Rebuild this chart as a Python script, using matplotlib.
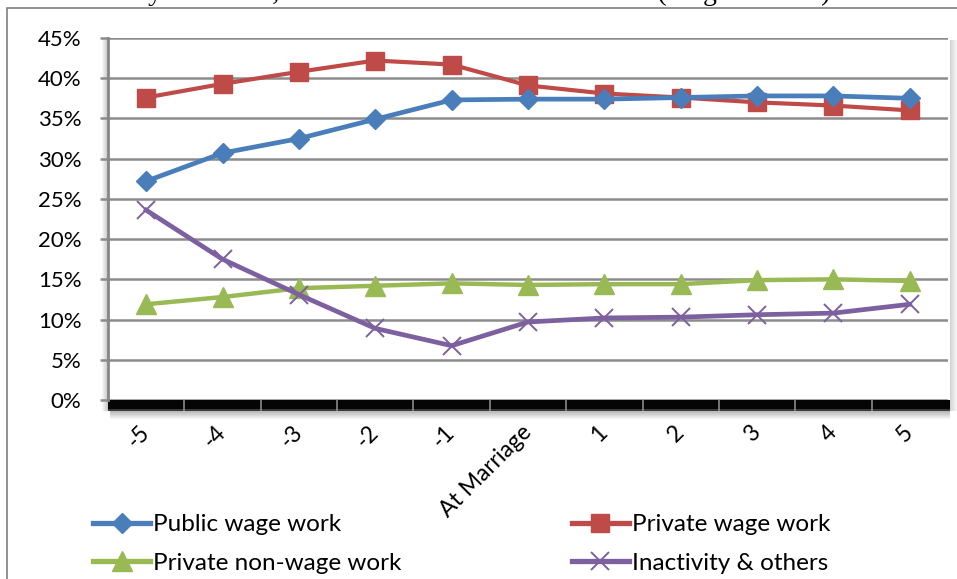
import matplotlib
matplotlib.use("Agg")
import matplotlib.pyplot as plt
from matplotlib.patches import Rectangle
from matplotlib.lines import Line2D
from matplotlib.transforms import blended_transform_factory
from matplotlib.ticker import FuncFormatter

# Employment status shares (%) by years relative to marriage
periods = ["-5", "-4", "-3", "-2", "-1", "At Marriage", "1", "2", "3", "4", "5"]
public_wage = [27.2, 30.7, 32.5, 34.9, 37.3, 37.4, 37.4, 37.6, 37.8, 37.8, 37.5]
private_wage = [37.6, 39.3, 40.8, 42.2, 41.7, 39.1, 38.1, 37.6, 37.0, 36.6, 36.0]
private_nonwage = [11.9, 12.8, 13.9, 14.2, 14.5, 14.3, 14.4, 14.4, 14.9, 15.0, 14.8]
inactivity = [23.6, 17.5, 13.1, 8.9, 6.75, 9.7, 10.2, 10.3, 10.6, 10.8, 11.9]

series_names = ["Public wage work", "Private wage work",
                "Private non-wage work", "Inactivity & others"]
y_ticks = [0, 5, 10, 15, 20, 25, 30, 35, 40, 45]

BLUE = "#4A7EBB"
RED = "#BE4B48"
GREEN = "#98B954"
PURPLE = "#7D60A0"
GRID = "#8C8C8C"

plt.rcParams["font.family"] = ["Lato", "DejaVu Sans"]

W, H = 957, 579
fig = plt.figure(figsize=(W / 100, H / 100), dpi=100)
fig.patch.set_facecolor("white")

# surrounding frame of the figure box
fig.patches.append(Rectangle((7 / W, -0.05), 1.2, 1 - 8 / H + 0.05,
                             transform=fig.transFigure, fill=False,
                             edgecolor="#7F7F7F", lw=1.2))

# caption line of the surrounding document (mostly cut off above)
fig.text(-0.01, 1 - 0.5 / H,
         "ever Secondary Educated, Ever Married Jordanian Females (Wage Earners)",
         family=["Liberation Serif"], fontsize=20, va="baseline", ha="left",
         color="black")

L, R, T, B = 108, 948, 38, 400
ax = fig.add_axes([L / W, 1 - B / H, (R - L) / W, (B - T) / H])
ax.set_facecolor("white")

x = list(range(len(periods)))
lw = 3.4
ax.plot(x, public_wage, color=BLUE, lw=lw, marker="D", ms=10,
        mfc=BLUE, mec=BLUE, zorder=5, solid_joinstyle="round")
ax.plot(x, private_wage, color=RED, lw=3.0, marker="s", ms=13.5,
        mfc=RED, mec=RED, zorder=4, solid_joinstyle="round")
ax.plot(x, private_nonwage, color=GREEN, lw=3.2, marker="^", ms=14,
        mfc=GREEN, mec=GREEN, zorder=4, solid_joinstyle="round")
ax.plot(x, inactivity, color=PURPLE, lw=lw, marker="x", ms=13,
        mew=1.4, mec=PURPLE, zorder=4, solid_joinstyle="round")

ax.set_xlim(-0.5, len(periods) - 0.5)
ax.set_ylim(0, 45)
ax.set_yticks(y_ticks)
ax.yaxis.set_major_formatter(FuncFormatter(lambda v, p: f"{v:.0f}%"))
ax.yaxis.grid(True, color=GRID, lw=1.8)
ax.set_axisbelow(True)

for s in ["top", "right", "bottom"]:
    ax.spines[s].set_visible(False)
ax.spines["left"].set_color("#868686")
ax.spines["left"].set_linewidth(2)

ax.tick_params(axis="y", length=6, width=1.8, color=GRID, pad=13,
               labelsize=16)
ax.set_xticks(x)
ax.set_xticklabels(periods, rotation=45, ha="right", va="center",
                   rotation_mode="anchor", fontsize=16.5)
ax.tick_params(axis="x", length=0, pad=21)

# dark floor band under the plot area, with category separators
ph = B - T
pw = R - L
band = 11 / ph
ax.add_patch(Rectangle((0, -band), 1 + 2 / pw, band, transform=ax.transAxes,
                       facecolor="#050505", edgecolor="none", clip_on=False,
                       zorder=1))
ax.add_patch(Rectangle((0, -band), 1 + 2 / pw, 2 / ph, transform=ax.transAxes,
                       facecolor="#3a3a3a", edgecolor="none", clip_on=False,
                       zorder=1))
btrans = blended_transform_factory(ax.transData, ax.transAxes)
ax.vlines([i + 0.5 for i in range(len(periods) - 1)], -band, 0,
          transform=btrans, colors="#8A8A8A", lw=1.2, clip_on=False, zorder=2)

# soft shadows around the plot area
n = 8
for i in range(n):
    a = 0.28 * (1 - i / n)
    # below the floor band
    ax.add_patch(Rectangle((2 / pw, -band - (i + 1) / ph), 1, 1 / ph,
                           transform=ax.transAxes, facecolor="black",
                           alpha=a, edgecolor="none", clip_on=False, zorder=0))
    # right side
    ax.add_patch(Rectangle((1 + (i + 2) / pw, -band), 1 / pw, 1 + band - 2 / ph,
                           transform=ax.transAxes, facecolor="black",
                           alpha=a * 0.6, edgecolor="none", clip_on=False,
                           zorder=0))
for i in range(6):
    a = 0.22 * (1 - i / 6)
    ax.add_patch(Rectangle((-(i + 1) / pw, -band), 1 / pw, 1 + band - 1 / ph,
                           transform=ax.transAxes, facecolor="black",
                           alpha=a, edgecolor="none", clip_on=False, zorder=0))

# legend
handles = [
    Line2D([], [], color=BLUE, lw=3.8, marker="D", ms=10, mec=BLUE),
    Line2D([], [], color=GREEN, lw=3.8, marker="^", ms=14, mec=GREEN),
    Line2D([], [], color=RED, lw=3.8, marker="s", ms=13.5, mec=RED),
    Line2D([], [], color=PURPLE, lw=3.8, marker="x", ms=13, mew=1.4, mec=PURPLE),
]
labels = [series_names[0], series_names[2], series_names[1], series_names[3]]
fig.legend(handles, labels, loc="upper left",
           bbox_to_anchor=(93 / W, 1 - 514 / H), ncol=2, frameon=False,
           fontsize=17.5, handlelength=2.35, handletextpad=0.12,
           columnspacing=7.0, labelspacing=0.72, borderpad=0,
           borderaxespad=0)

fig.savefig("out.png", dpi=100, facecolor="white")
